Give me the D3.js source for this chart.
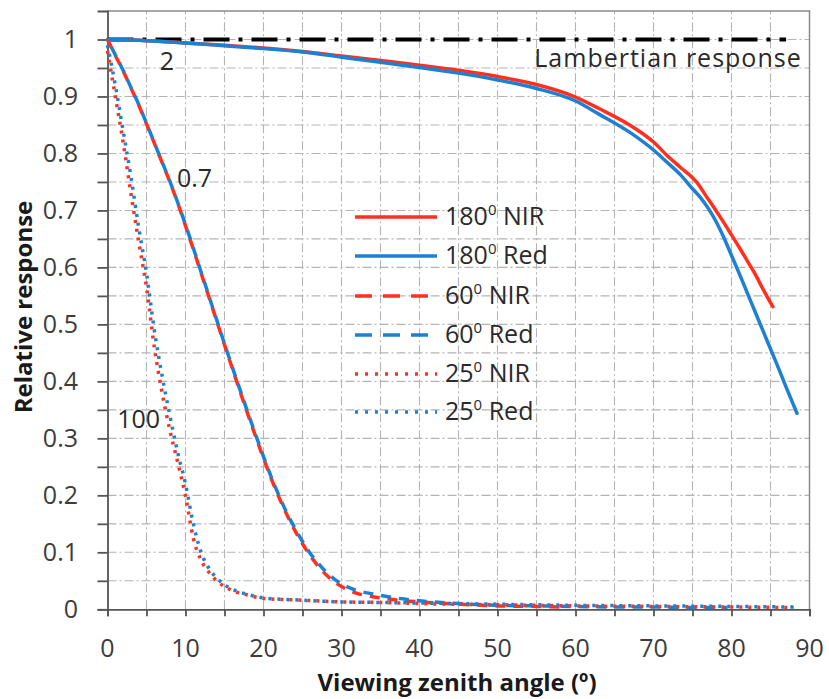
<!DOCTYPE html>
<html>
<head>
<meta charset="utf-8">
<script src="https://cdn.jsdelivr.net/npm/d3@7"></script>
<style>
  html, body { margin: 0; padding: 0; background: #fff; }
  svg { display: block; }
  text { font-family: "Open Sans", Lato, sans-serif; }
</style>
</head>
<body>
<svg id="chart" width="829" height="699"></svg>
<script>
// ---------------- data ----------------
const xTickValues = [0, 10, 20, 30, 40, 50, 60, 70, 80, 90];
const yTickValues = [0, 0.1, 0.2, 0.3, 0.4, 0.5, 0.6, 0.7, 0.8, 0.9, 1];
const yTickLabels = ["0", "0.1", "0.2", "0.3", "0.4", "0.5", "0.6", "0.7", "0.8", "0.9", "1"];

const fov180NIR = [[0,1],[5,0.998],[10,0.994],[15,0.99],[20,0.985],[25,0.979],[30,0.971],[35,0.963],[40,0.955],[45,0.946],[50,0.935],[55,0.921],[60,0.899],[63,0.879],[67.4,0.846],[70,0.82],[71.7,0.797],[73.5,0.775],[75.5,0.75],[77,0.72],[78,0.70],[79,0.679],[80,0.657],[81,0.635],[82,0.612],[83,0.589],[84,0.563],[85.3,0.531]];
const fov180Red = [[0,1],[5,0.998],[10,0.994],[15,0.989],[20,0.984],[25,0.978],[30,0.969],[35,0.96],[40,0.951],[45,0.941],[50,0.929],[55,0.914],[60,0.892],[63,0.869],[67.4,0.833],[70,0.806],[71.7,0.785],[73.5,0.762],[75,0.738],[76,0.723],[77,0.704],[78,0.681],[79,0.653],[80,0.621],[81,0.589],[82,0.556],[83,0.523],[84,0.49],[85,0.457],[86,0.424],[87,0.39],[88,0.357],[88.4,0.344]];
const fov60NIR = [[0,1],[1,0.972],[2,0.945],[3,0.915],[4,0.885],[5,0.852],[6,0.818],[7,0.784],[8,0.75],[9,0.713],[10,0.673],[11,0.632],[12,0.59],[13,0.548],[14,0.506],[15,0.464],[16,0.423],[17,0.382],[18,0.342],[19,0.303],[20,0.265],[21,0.229],[22,0.196],[23,0.166],[24,0.139],[25,0.115],[26,0.094],[27,0.076],[28,0.061],[29,0.049],[30,0.04],[31,0.033],[32,0.028],[34,0.022],[36,0.018],[38,0.015],[40,0.013],[45,0.009],[50,0.006],[55,0.005],[58,0.004]];
const fov60Red = [[0,1],[1,0.973],[2,0.946],[3,0.916],[4,0.886],[5,0.853],[6,0.819],[7,0.785],[8,0.751],[9,0.714],[10,0.675],[11,0.634],[12,0.592],[13,0.55],[14,0.508],[15,0.466],[16,0.425],[17,0.385],[18,0.345],[19,0.306],[20,0.268],[21,0.232],[22,0.199],[23,0.169],[24,0.143],[25,0.119],[26,0.098],[27,0.081],[28,0.066],[29,0.054],[30,0.045],[31,0.038],[32,0.033],[34,0.027],[36,0.022],[38,0.018],[40,0.015],[45,0.01],[50,0.007],[55,0.006],[60,0.005],[65,0.004],[70,0.004],[75,0.003],[79.5,0.003]];
const fov25NIR = [[0,0.98],[1,0.9],[2,0.82],[3,0.73],[4,0.645],[5,0.565],[6,0.46],[7,0.38],[8,0.314],[9,0.258],[10,0.199],[11,0.125],[12,0.086],[13,0.065],[14,0.05],[15,0.04],[16,0.033],[18,0.025],[20,0.019],[25,0.016],[30,0.013],[35,0.012],[40,0.01],[50,0.008],[60,0.006],[70,0.005],[80,0.004],[88,0.003]];
const fov25Red = [[0,0.99],[1,0.92],[2,0.84],[3,0.76],[4,0.67],[5,0.59],[6,0.49],[7,0.41],[8,0.34],[9,0.275],[10,0.22],[11,0.15],[12,0.1],[13,0.072],[14,0.055],[15,0.043],[16,0.035],[18,0.026],[20,0.02],[25,0.016],[30,0.013],[35,0.012],[40,0.011],[50,0.009],[60,0.007],[70,0.006],[80,0.005],[88,0.004]];
const lambertian = [[0,1],[87,1]];

const seriesNames = ["180", "180", "60", "60", "25", "25"];
const seriesBands = ["NIR", "Red", "NIR", "Red", "NIR", "Red"];
const seriesData = [fov180NIR, fov180Red, fov60NIR, fov60Red, fov25NIR, fov25Red];

const annotations = [
  {text: "2", x: 6.7, y: 0.946, anchor: "start", ls: 0},
  {text: "0.7", x: 8.9, y: 0.741, anchor: "start", ls: 0},
  {text: "100", x: 1.25, y: 0.318, anchor: "start", ls: 0},
  {text: "Lambertian response", x: 89.0, y: 0.952, anchor: "end", ls: 1}
];

// ---------------- styles ----------------
const RED = "#ff3020", BLUE = "#1e80d2";
const seriesStyle = [
  {color: RED,  dash: null,   off: 0, width: 3.5, cap: "round"},
  {color: BLUE, dash: null,   off: 0, width: 3.5, cap: "round"},
  {color: RED,  dash: "10,8", off: 0, width: 3.5, cap: "butt"},
  {color: BLUE, dash: "10,8", off: 9, width: 3.5, cap: "butt"},
  {color: RED,  dash: "3,6",  off: 0, width: 3.5, cap: "butt"},
  {color: BLUE, dash: "3,6",  off: 0, width: 3.5, cap: "butt"}
];
const legendDash = [null, null, "17,11", "17,11", "3,7", "3,7"];
const FS = 25;

// ---------------- layout ----------------
const svg = d3.select("#chart");
const x = d3.scaleLinear().domain([0, 90]).range([107.5, 809.5]);
const y = d3.scaleLinear().domain([0, 1.05]).range([609.3, 11]);

// grid
const grid = svg.append("g");
grid.selectAll("line.v").data(d3.range(5, 90, 5)).join("line")
  .attr("x1", d => x(d)).attr("x2", d => x(d))
  .attr("y1", y(0)).attr("y2", y(1.05))
  .attr("stroke", "#b4b4b4").attr("stroke-width", 1.1)
  .attr("stroke-dasharray", "9,3,2,3");
grid.selectAll("line.h").data(d3.range(1, 21).map(i => i * 0.05)).join("line")
  .attr("x1", x(0)).attr("x2", x(90))
  .attr("y1", d => y(d)).attr("y2", d => y(d))
  .attr("stroke", "#b4b4b4").attr("stroke-width", 1.1)
  .attr("stroke-dasharray", "9,3,2,3");

// border top/right
svg.append("path")
  .attr("d", `M${x(0)},${y(1.05)}H${x(90)}V${y(0)}`)
  .attr("fill", "none").attr("stroke", "#8a8a8a").attr("stroke-width", 1.5);

// axes
const xAxis = d3.axisBottom(x).tickValues(d3.range(0, 91, 5)).tickSize(7).tickFormat("");
const gx = svg.append("g").attr("transform", `translate(0,${y(0)})`).call(xAxis);
gx.select(".domain").attr("stroke", "#555").attr("stroke-width", 1.8);
gx.selectAll(".tick line").attr("stroke", "#555").attr("stroke-width", 1.8);
svg.append("g").selectAll("text").data(xTickValues).join("text")
  .attr("x", d => x(d)).attr("y", 657)
  .attr("text-anchor", "middle").attr("font-size", FS).attr("fill", "#3c3c3c")
  .text(d => d);

const yAxis = d3.axisLeft(y).tickValues(d3.range(0, 21).map(i => i * 0.05)).tickSize(10).tickFormat("");
const gy = svg.append("g").attr("transform", `translate(${x(0)},0)`).call(yAxis);
gy.select(".domain").attr("stroke", "#555").attr("stroke-width", 1.8);
gy.selectAll(".tick line").attr("stroke", "#555").attr("stroke-width", 1.8);
svg.append("g").selectAll("text").data(yTickValues).join("text")
  .attr("x", 78).attr("y", d => y(d)).attr("dy", "0.36em")
  .attr("text-anchor", "end").attr("font-size", FS).attr("fill", "#3c3c3c")
  .text((d, i) => yTickLabels[i]);

// axis titles
svg.append("text")
  .attr("x", 457).attr("y", 691)
  .attr("text-anchor", "middle").attr("font-size", 24).attr("font-weight", "bold").attr("fill", "#1a1a1a")
  .text("Viewing zenith angle (º)");
svg.append("text")
  .attr("transform", "translate(32,307) rotate(-90)")
  .attr("text-anchor", "middle").attr("font-size", 24).attr("font-weight", "bold").attr("fill", "#1a1a1a")
  .text("Relative response");

// lambertian line
const line = d3.line().x(d => x(d[0])).y(d => y(d[1])).curve(d3.curveMonotoneX);
svg.append("path").datum(lambertian).attr("d", line)
  .attr("fill", "none").attr("stroke", "#000").attr("stroke-width", 4)
  .attr("stroke-dasharray", "26,9,4,9");

// series
svg.append("g").selectAll("path").data(seriesData).join("path")
  .attr("d", line)
  .attr("fill", "none")
  .attr("stroke", (d, i) => seriesStyle[i].color)
  .attr("stroke-width", (d, i) => seriesStyle[i].width)
  .attr("stroke-linecap", (d, i) => seriesStyle[i].cap)
  .attr("stroke-linejoin", "round")
  .attr("stroke-dasharray", (d, i) => seriesStyle[i].dash)
  .attr("stroke-dashoffset", (d, i) => seriesStyle[i].off);

// annotations
svg.append("g").selectAll("text").data(annotations).join("text")
  .attr("x", d => x(d.x)).attr("y", d => y(d.y))
  .attr("text-anchor", d => d.anchor).attr("font-size", FS).attr("fill", "#2a2a2a")
  .attr("letter-spacing", d => d.ls)
  .text(d => d.text);

// legend
const legendRowsY = [217, 256, 296, 335, 374, 412];
const lg = svg.append("g");
seriesData.forEach((s, i) => {
  const yy = legendRowsY[i];
  lg.append("line")
    .attr("x1", 355).attr("x2", 437).attr("y1", yy).attr("y2", yy)
    .attr("stroke", seriesStyle[i].color).attr("stroke-width", 3.5)
    .attr("stroke-dasharray", legendDash[i]);
  const t = lg.append("text").attr("x", 445).attr("y", yy + 8)
    .attr("font-size", FS).attr("fill", "#2a2a2a");
  t.append("tspan").text(seriesNames[i]);
  t.append("tspan").attr("font-size", 15).attr("dy", -10).text("0");
  t.append("tspan").attr("dy", 10).text(" " + seriesBands[i]);
});
</script>
</body>
</html>
